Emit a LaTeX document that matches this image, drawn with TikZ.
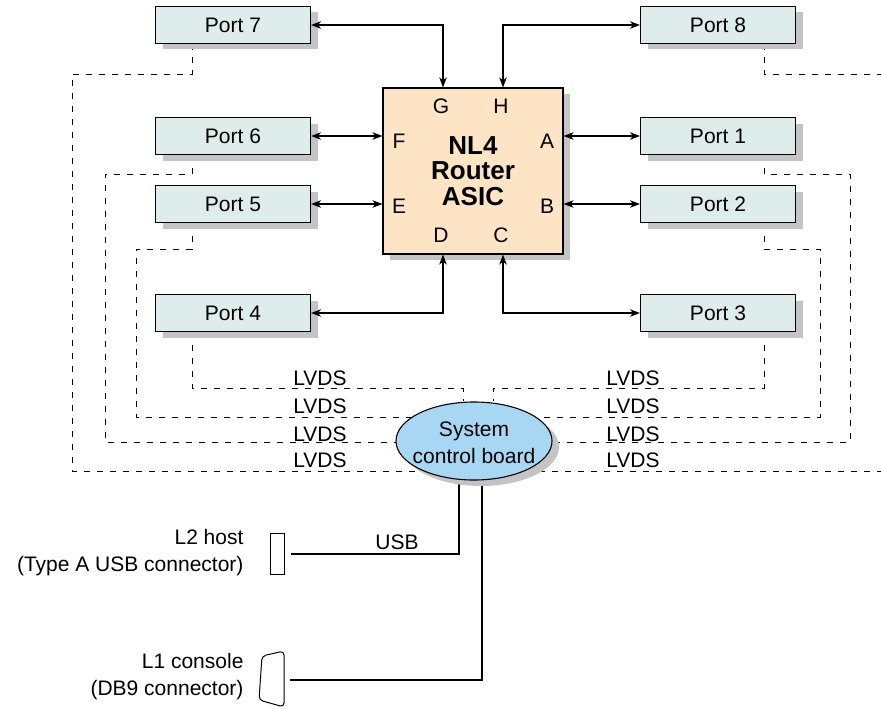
\documentclass[tikz,border=0pt]{standalone}
\usepackage{fontspec}
\setmainfont{Liberation Sans}
\usetikzlibrary{shapes.geometric,shadows,backgrounds,arrows.meta}

\definecolor{portfill}{RGB}{222,236,236}
\definecolor{asicfill}{RGB}{252,228,196}
\definecolor{boardfill}{RGB}{168,215,244}

\tikzset{
  shade box/.style={drop shadow={shadow xshift=7pt, shadow yshift=-6pt, fill=black!23, opacity=1}},
  port/.style={draw, line width=1.1pt, fill=portfill, minimum width=155pt, minimum height=37pt, inner sep=0pt, shade box},
  asic/.style={draw, line width=1.1pt, fill=asicfill, minimum width=180pt, minimum height=166pt, inner sep=0pt, align=center,
    font=\bfseries\fontsize{26}{25.5}\selectfont, shade box},
  board/.style={ellipse, draw, line width=1.1pt, fill=boardfill, minimum width=156pt, minimum height=78pt, inner sep=0pt, shade box},
  link/.style={line width=1.1pt, <->, >={Stealth[length=10pt, width=7.5pt, inset=3pt]}},
  lvds/.style={line width=0.9pt, dash pattern=on 6pt off 7pt},
  wire/.style={line width=1.1pt}
}

\begin{document}
\begin{tikzpicture}[x=1pt, y=-1pt, font=\fontsize{21}{27}\selectfont]
\useasboundingbox (0,0) rectangle (881,709);

\node[port] (p7) at (233,25) {Port 7};
\node[port] (p8) at (718,25) {Port 8};
\node[port] (p6) at (233,136) {Port 6};
\node[port] (p1) at (718,136) {Port 1};
\node[port] (p5) at (233,204) {Port 5};
\node[port] (p2) at (718,204) {Port 2};
\node[port] (p4) at (233,313) {Port 4};
\node[port] (p3) at (718,313) {Port 3};

\node[asic] (asic) at (473,171) {NL4\\Router\\ASIC};
\node (g) at (441,106) {G};
\node (h) at (501,106) {H};
\node (f) at (399,141) {F};
\node (a) at (547,141) {A};
\node (e) at (399,206) {E};
\node (b) at (547,206) {B};
\node (d) at (441,235) {D};
\node (c) at (501,235) {C};

\draw[link] (p7.east) -| ([xshift=-30pt]asic.north);
\draw[link] (p8.west) -| ([xshift=30pt]asic.north);
\draw[link] (p6.east) -- (p6.east -| asic.west);
\draw[link] (p1.west) -- (p1.west -| asic.east);
\draw[link] (p5.east) -- (p5.east -| asic.west);
\draw[link] (p2.west) -- (p2.west -| asic.east);
\draw[link] (p4.east) -| ([xshift=-30pt]asic.south);
\draw[link] (p3.west) -| ([xshift=30pt]asic.south);

\node[board] (scb) at (474,441) {};
\node[align=center] (scbtext) at (474,443) {System\\control board};

\node[draw, line width=1pt, minimum width=14pt, minimum height=41pt, inner sep=0pt] (usb) at (277,554) {};
\draw[line width=1pt, rounded corners=4pt] (284,651) -- (262,656) -- (259,700) -- (284,707) -- cycle;
\coordinate (db9) at (284,680);

\node[anchor=east, align=right] (l2) at (247,553) {L2 host\\(Type A USB connector)};
\node[anchor=east, align=right] (l1) at (247,677) {L1 console\\(DB9 connector)};
\node[anchor=base] (usblabel) at (397,549) {USB};

\foreach \y/\t [count=\i] in {388/385, 417/413, 442/441, 471/467} {
  \node[anchor=base] (lvdsl\i) at (320,\t) {LVDS};
  \node[anchor=base] (lvdsr\i) at (633,\t) {LVDS};
}

\begin{scope}[on background layer]
\draw[lvds] ([xshift=-41pt]p7.south) -- ++(0,30) -| (72,471) -- (881,471);
\draw[lvds] ([xshift=-41pt]p6.south) -- ++(0,19) -| (105,442) -- (scb |- 0,442);
\draw[lvds] ([xshift=-41pt]p5.south) -- ++(0,26) -| (136,417) -- (scb |- 0,417);
\draw[lvds] ([xshift=-41pt]p4.south) -- ++(0,56) -| ([xshift=-11pt]scb.north);
\draw[lvds] ([xshift=46pt]p8.south) -- ++(0,30) coordinate (c8) -- (c8 -| 881,0);
\draw[lvds] ([xshift=46pt]p1.south) -- ++(0,19) -| (850,442) -- (scb |- 0,442);
\draw[lvds] ([xshift=46pt]p2.south) -- ++(0,26) -| (820,417) -- (scb |- 0,417);
\draw[lvds] ([xshift=46pt]p3.south) -- ++(0,56) -| ([xshift=19pt]scb.north);
\draw[wire] ([xshift=6pt]usb.east) -| ([xshift=-15pt]scb.south);
\draw[wire] ([xshift=6pt]db9) -| ([xshift=8pt]scb.south);
\end{scope}
\end{tikzpicture}
\end{document}
